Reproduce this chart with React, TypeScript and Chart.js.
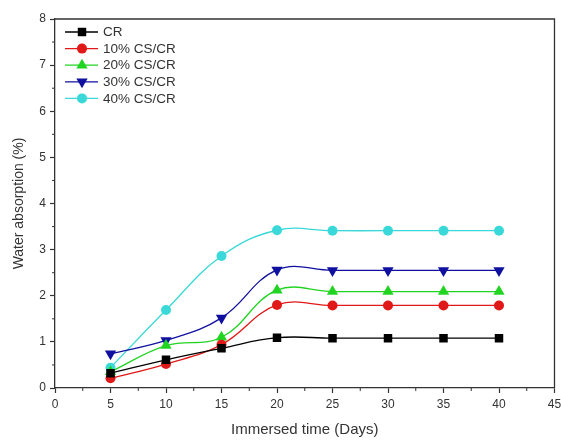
import React, { useEffect, useRef } from "react";
import { Chart, registerables } from "chart.js";

Chart.register(...registerables);

const days = [5, 10, 15, 20, 25, 30, 35, 40];
const seriesNames = ["CR", "10% CS/CR", "20% CS/CR", "30% CS/CR", "40% CS/CR"];
const crValues = [0.32, 0.61, 0.86, 1.09, 1.08, 1.08, 1.08, 1.08];
const cs10Values = [0.21, 0.52, 0.94, 1.8, 1.79, 1.79, 1.79, 1.79];
const cs20Values = [0.35, 0.92, 1.1, 2.12, 2.09, 2.09, 2.09, 2.09];
const cs30Values = [0.74, 1.03, 1.52, 2.56, 2.55, 2.55, 2.55, 2.55];
const cs40Values = [0.44, 1.69, 2.86, 3.42, 3.41, 3.41, 3.41, 3.41];
const xTicks = [0, 5, 10, 15, 20, 25, 30, 35, 40, 45];
const yTicks = [0, 1, 2, 3, 4, 5, 6, 7, 8];

const colors = ["#000000", "#e01818", "#22d422", "#1010a0", "#3ad8d8"];
const pointStyles = ["rect", "circle", "triangle", "triangle", "circle"];
const rotations = [0, 0, 0, 180, 0];
const radii = [6, 5, 6.5, 6.5, 5];
const FONT = "'Liberation Sans', Arial, sans-serif";

function drawMarker(ctx: any, style: string, rot: number, x: number, y: number, r: number, color: string) {
  ctx.save();
  ctx.fillStyle = color;
  ctx.translate(x, y);
  ctx.rotate((rot * Math.PI) / 180);
  ctx.beginPath();
  if (style === "rect") {
    const h = r * Math.SQRT1_2;
    ctx.rect(-h, -h, 2 * h, 2 * h);
  } else if (style === "triangle") {
    const s = r;
    ctx.moveTo(0, -s);
    ctx.lineTo(s * 0.87, s * 0.5);
    ctx.lineTo(-s * 0.87, s * 0.5);
    ctx.closePath();
  } else {
    ctx.arc(0, 0, r, 0, Math.PI * 2);
  }
  ctx.fill();
  ctx.restore();
}

const frameAndTicks = {
  id: "frameAndTicks",
  afterDraw(chart: any) {
    const { ctx, chartArea } = chart;
    const xs = chart.scales.x;
    const ys = chart.scales.y;
    ctx.save();
    ctx.strokeStyle = "#333";
    ctx.lineWidth = 1.3;
    ctx.beginPath();
    ctx.moveTo(chartArea.left, chartArea.top);
    ctx.lineTo(chartArea.right, chartArea.top);
    ctx.lineTo(chartArea.right, chartArea.bottom);
    ctx.stroke();
    ctx.lineWidth = 1;
    ctx.beginPath();
    for (let v = 2.5; v < 45; v += 5) {
      const px = xs.getPixelForValue(v);
      ctx.moveTo(px, chartArea.bottom);
      ctx.lineTo(px, chartArea.bottom + 3);
    }
    for (let v = 0.5; v < 8; v += 1) {
      const py = ys.getPixelForValue(v);
      ctx.moveTo(chartArea.left, py);
      ctx.lineTo(chartArea.left - 3, py);
    }
    ctx.stroke();
    const ds = chart.data.datasets;
    ctx.font = `13.5px ${FONT}`;
    ctx.textBaseline = "middle";
    ctx.textAlign = "left";
    ds.forEach((d: any, i: number) => {
      const y = 32 + i * 16.6;
      ctx.strokeStyle = d.borderColor;
      ctx.lineWidth = 1.3;
      ctx.beginPath();
      ctx.moveTo(65, y);
      ctx.lineTo(98, y);
      ctx.stroke();
      drawMarker(ctx, d.pointStyle, d.pointRotation || 0, 82, y, d.pointRadius, d.backgroundColor);
      ctx.fillStyle = "#333";
      ctx.fillText(d.label, 103, y + 0.5);
    });
    ctx.restore();
  },
};

export default function App() {
  const ref = useRef<HTMLCanvasElement>(null);
  useEffect(() => {
    document.body.style.margin = "0";
    const allValues = [crValues, cs10Values, cs20Values, cs30Values, cs40Values];
    const chart = new Chart(ref.current!, {
      type: "line",
      data: {
        datasets: allValues.map((vals, i) => ({
          label: seriesNames[i],
          data: days.map((d, j) => ({ x: d, y: vals[j] })),
          borderColor: colors[i],
          backgroundColor: colors[i],
          borderWidth: 1.3,
          pointStyle: pointStyles[i] as any,
          pointRotation: rotations[i],
          pointRadius: radii[i],
          pointBorderWidth: 0,
          tension: 0.4,
          fill: false,
        })),
      },
      options: {
        responsive: false,
        animation: false,
        layout: { padding: { top: 19, right: 6, left: 0, bottom: 0 } },
        plugins: { legend: { display: false }, tooltip: { enabled: false } },
        scales: {
          x: {
            type: "linear",
            min: 0,
            max: 45,
            afterBuildTicks: (s: any) => {
              s.ticks = xTicks.map((v) => ({ value: v }));
            },
            afterFit: (s: any) => {
              s.height = 53;
              s.paddingRight = 0;
              s.paddingLeft = 0;
            },
            grid: { drawOnChartArea: false, drawTicks: true, tickLength: 5, color: "#333", tickWidth: 1.2 },
            border: { display: true, color: "#333", width: 1.3 },
            ticks: { color: "#333", font: { family: FONT, size: 12 }, padding: 4, maxRotation: 0 },
            title: {
              display: true,
              text: "Immersed time (Days)",
              color: "#333",
              font: { family: FONT, size: 15 },
              padding: { top: 4, bottom: 2 },
            },
          },
          y: {
            type: "linear",
            min: 0,
            max: 8,
            afterBuildTicks: (s: any) => {
              s.ticks = yTicks.map((v) => ({ value: v }));
            },
            afterFit: (s: any) => {
              s.width = 55;
              s.paddingTop = 0;
              s.paddingBottom = 0;
            },
            grid: { drawOnChartArea: false, drawTicks: true, tickLength: 5, color: "#333", tickWidth: 1.2 },
            border: { display: true, color: "#333", width: 1.3 },
            ticks: { color: "#333", font: { family: FONT, size: 12 }, padding: 4 },
            title: {
              display: true,
              text: "Water absorption (%)",
              color: "#333",
              font: { family: FONT, size: 14 },
              padding: { top: 11, bottom: 4 },
            },
          },
        },
      },
      plugins: [frameAndTicks],
    });
    return () => chart.destroy();
  }, []);
  return (
    <div style={{ width: 561, height: 441 }}>
      <canvas ref={ref} width={561} height={441} style={{ display: "block" }} />
    </div>
  );
}
